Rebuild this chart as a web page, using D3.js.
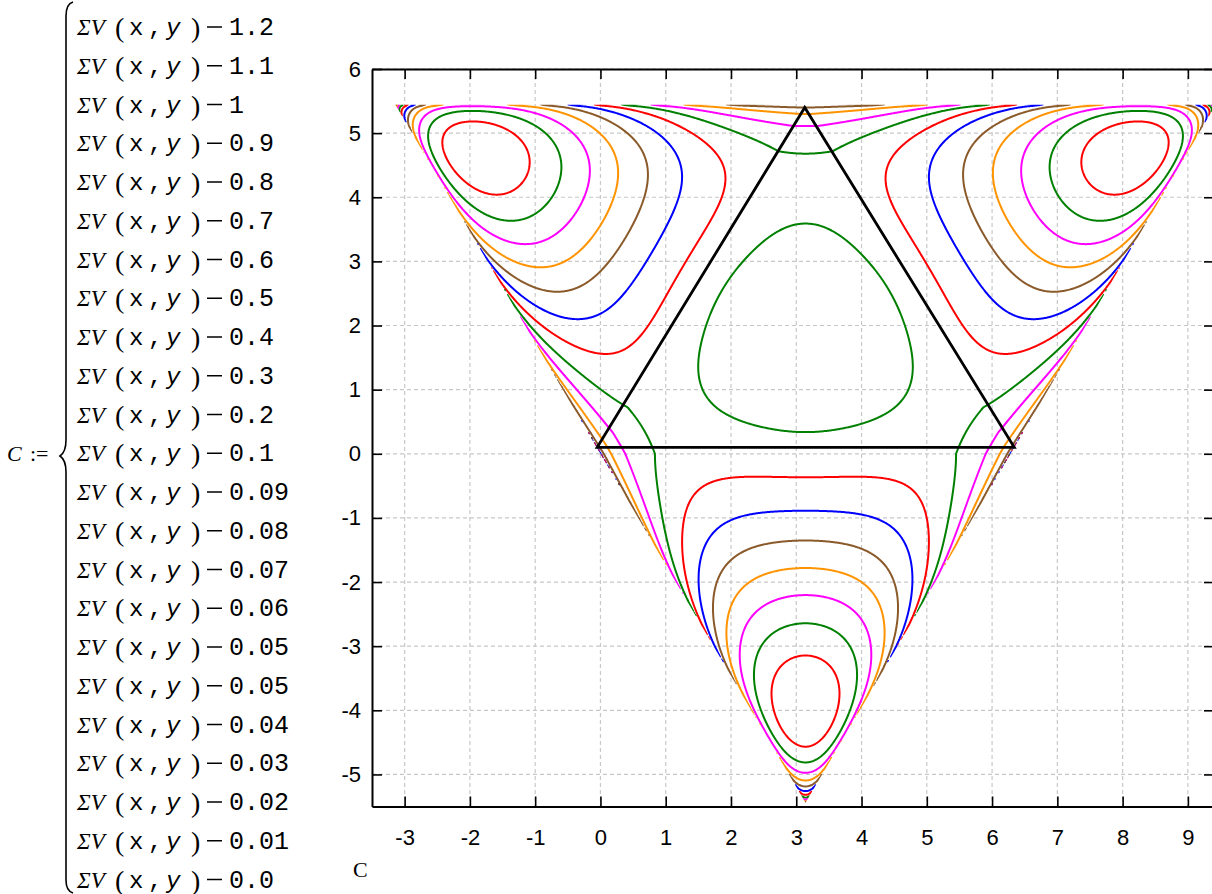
<!DOCTYPE html>
<html>
<head>
<meta charset="utf-8">
<script src="https://cdn.jsdelivr.net/npm/d3@7"></script>
<style>
  html, body { margin: 0; padding: 0; background: #ffffff; }
  svg { display: block; }
</style>
</head>
<body>
<svg id="chart" width="1212" height="894"></svg>
<script>
// Contour levels c of the implicit curves ΣV(x, y) − c = 0, in trace order
const levels = [1.2, 1.1, 1, 0.9, 0.8, 0.7, 0.6, 0.5, 0.4, 0.3, 0.2, 0.1,
                0.09, 0.08, 0.07, 0.06, 0.05, 0.05, 0.04, 0.03, 0.02, 0.01, 0.0];
const levelLabels = ["1.2", "1.1", "1", "0.9", "0.8", "0.7", "0.6", "0.5", "0.4", "0.3", "0.2", "0.1",
                     "0.09", "0.08", "0.07", "0.06", "0.05", "0.05", "0.04", "0.03", "0.02", "0.01", "0.0"];
// Trace colours, cycling with the trace index
const traceColors = ["#ff0000", "#008000", "#ff00ff", "#ff9400", "#8b5a2b", "#0000ff"];
const xTicks = [-3, -2, -1, 0, 1, 2, 3, 4, 5, 6, 7, 8, 9];
const yTicks = [-5, -4, -3, -2, -1, 0, 1, 2, 3, 4, 5, 6];
const xDomain = [-3.5, 9.4];
const yDomain = [-5.5, 6];
// Inscribed black triangle
const blackTriangle = [[-0.05, 0.1], [6.34, 0.1], [3.13, 5.4]];
// Pair potential V(r), r = distance round the ring:
// A r^p exp(-k r^1.5) with two soft tails at large r
const potA = 0.733, potP = 0.42, potK = 0.621;
const tail1 = { k: 0.025, r0: 1.7, w: 0.25 };
const tail2 = { k: 0.06, r0: 2.14, w: 0.15 };

const PI = Math.PI, TWO_PI = 2 * Math.PI, SQ3 = Math.sqrt(3);
// Configuration triangle: all three gaps g1, g2, g3 >= 0, g1 + g2 + g3 = 2π
const domainTriangle = [[-PI, PI * SQ3], [3 * PI, PI * SQ3], [PI, -PI * SQ3]];

function ringDist(g) {
  const m = ((g % TWO_PI) + TWO_PI) % TWO_PI;
  return Math.min(m, TWO_PI - m);
}
function softTail(r, t) {
  return t.k * Math.log1p(Math.exp((r - t.r0) / t.w));
}
function V(r) {
  if (r <= 0) return 0;
  return potA * Math.pow(r, potP)
    * Math.exp(-potK * r * Math.sqrt(r) - softTail(r, tail1) - softTail(r, tail2));
}
function sumV(x, y) {
  const g1 = PI - y / SQ3;
  const g2 = x / 2 + y / (2 * SQ3);
  const g3 = PI - x / 2 + y / (2 * SQ3);
  return V(ringDist(g1)) + V(ringDist(g2)) + V(ringDist(g3));
}

const svg = d3.select("#chart");
const plot = { left: 372, right: 1214, top: 69, bottom: 806.5 };
const xScale = d3.scaleLinear().domain(xDomain).range([plot.left, plot.right]);
const yScale = d3.scaleLinear().domain(yDomain).range([plot.bottom, plot.top]);

const defs = svg.append("defs");
defs.append("clipPath").attr("id", "plotClip")
  .append("rect")
  .attr("x", plot.left).attr("y", plot.top)
  .attr("width", plot.right - plot.left).attr("height", plot.bottom - plot.top);
defs.append("clipPath").attr("id", "domainClip")
  .append("path")
  .attr("d", d3.line().x(d => xScale(d[0])).y(d => yScale(d[1]))(domainTriangle) + "Z");

// Dashed grid
const grid = svg.append("g")
  .attr("stroke", "#c8c8c8").attr("stroke-width", 1.2).attr("stroke-dasharray", "4,3");
grid.selectAll("line.gx").data(xTicks).join("line").attr("class", "gx")
  .attr("x1", d => xScale(d)).attr("x2", d => xScale(d))
  .attr("y1", plot.top).attr("y2", plot.bottom);
grid.selectAll("line.gy").data(yTicks).join("line").attr("class", "gy")
  .attr("y1", d => yScale(d)).attr("y2", d => yScale(d))
  .attr("x1", plot.left).attr("x2", plot.right);

// Sample ΣV on a pixel grid covering the configuration triangle
const gx0 = 378, gy0 = 92, nx = 856, ny = 726;
const values = new Float64Array(nx * ny);
for (let j = 0; j < ny; j++) {
  const y = yScale.invert(gy0 + j + 0.5);
  for (let i = 0; i < nx; i++) {
    values[j * nx + i] = sumV(xScale.invert(gx0 + i + 0.5), y);
  }
}
const contourGen = d3.contours().size([nx, ny]);
const toPixels = d3.geoPath(d3.geoIdentity().translate([gx0, gy0]));

const traces = svg.append("g").attr("clip-path", "url(#plotClip)")
  .append("g").attr("clip-path", "url(#domainClip)");
levels.forEach((c, k) => {
  const shape = contourGen.contour(values, c);
  traces.append("path")
    .attr("d", toPixels(shape))
    .attr("fill", "none")
    .attr("stroke", traceColors[k % traceColors.length])
    .attr("stroke-width", 2)
    .attr("stroke-linejoin", "round");
});

svg.append("g").attr("clip-path", "url(#plotClip)")
  .append("path")
  .attr("d", d3.line().x(d => xScale(d[0])).y(d => yScale(d[1]))(blackTriangle) + "Z")
  .attr("fill", "none").attr("stroke", "#000").attr("stroke-width", 2.8)
  .attr("stroke-linejoin", "miter");

// Axes with inward ticks on all four sides
const fmt = d => String(d);
function styleAxis(g) {
  g.select(".domain").attr("stroke", "#000").attr("stroke-width", 2);
  g.selectAll(".tick line").attr("stroke", "#000").attr("stroke-width", 1.6);
  g.selectAll(".tick text").attr("fill", "#000")
    .attr("font-family", "Liberation Sans, Arial, sans-serif").attr("font-size", 22);
}
svg.append("g").attr("transform", `translate(0,${plot.bottom})`)
  .call(d3.axisBottom(xScale).tickValues(xTicks).tickFormat(fmt).tickSize(-10).tickSizeOuter(0).tickPadding(23))
  .call(styleAxis);
svg.append("g").attr("transform", `translate(0,${plot.top})`)
  .call(d3.axisTop(xScale).tickValues(xTicks).tickFormat("").tickSize(-10).tickSizeOuter(0))
  .call(styleAxis);
svg.append("g").attr("transform", `translate(${plot.left},0)`)
  .call(d3.axisLeft(yScale).tickValues(yTicks).tickFormat(fmt).tickSize(-10).tickSizeOuter(0).tickPadding(11))
  .call(styleAxis);
svg.append("g").attr("transform", `translate(${plot.right},0)`)
  .call(d3.axisRight(yScale).tickValues(yTicks).tickFormat("").tickSize(-10).tickSizeOuter(0))
  .call(styleAxis);

// Axis name under the plot
svg.append("text").attr("x", 353).attr("y", 877)
  .attr("font-family", "Liberation Serif, serif").attr("font-size", 22).text("C");

// Definition block: C := { ΣV(x, y) − c
const defBlock = svg.append("g").attr("fill", "#000");
defBlock.append("text").attr("x", 7).attr("y", 461)
  .attr("font-family", "Liberation Serif, serif").attr("font-style", "italic").attr("font-size", 22).text("C");
defBlock.append("text").attr("x", 30).attr("y", 461)
  .attr("font-family", "Liberation Serif, serif").attr("font-size", 22).text(":=");
defBlock.append("path")
  .attr("d", "M73,2 Q66,4 66,16 L66,440 Q66,452 60,456 Q66,460 66,472 L66,880 Q66,891 73,893")
  .attr("fill", "none").attr("stroke", "#000").attr("stroke-width", 1.6);

levelLabels.forEach((lab, k) => {
  const row = defBlock.append("g").attr("transform", `translate(0,${35 + 38.75 * k})`);
  row.append("text").attr("x", 77).attr("y", 0)
    .attr("font-family", "Liberation Serif, serif").attr("font-style", "italic").attr("font-size", 23).text("ΣV");
  row.append("text").attr("x", 115).attr("y", 2)
    .attr("font-family", "Liberation Serif, serif").attr("font-size", 28).text("(");
  row.append("text").attr("x", 129).attr("y", 0)
    .attr("font-family", "Liberation Mono, monospace").attr("font-size", 24).text("x");
  row.append("text").attr("x", 148).attr("y", 0)
    .attr("font-family", "Liberation Mono, monospace").attr("font-size", 24).text(",");
  row.append("text").attr("x", 166).attr("y", 0)
    .attr("font-family", "Liberation Mono, monospace").attr("font-style", "italic").attr("font-size", 24).text("y");
  row.append("text").attr("x", 191).attr("y", 2)
    .attr("font-family", "Liberation Serif, serif").attr("font-size", 28).text(")");
  // minus sign
  row.append("line").attr("x1", 207).attr("x2", 222).attr("y1", -8).attr("y2", -8)
    .attr("stroke", "#000").attr("stroke-width", 1.5);
  row.append("text").attr("x", 229).attr("y", 0)
    .attr("font-family", "Liberation Mono, monospace").attr("font-size", 25).text(lab);
});
</script>
</body>
</html>
